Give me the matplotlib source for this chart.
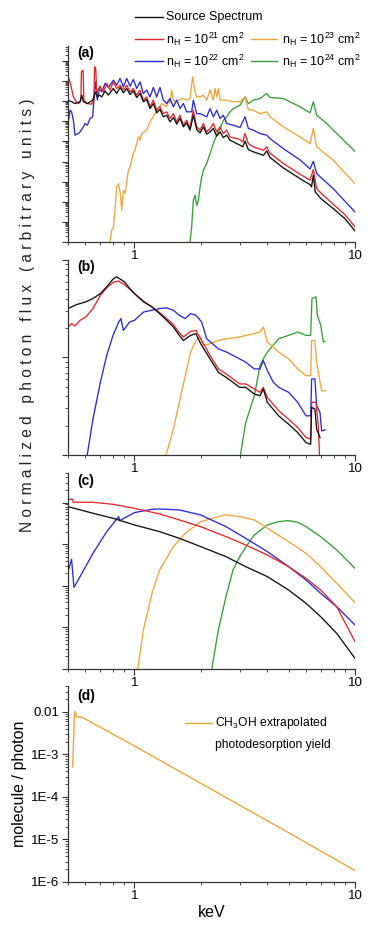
import numpy as np
import matplotlib
matplotlib.use('Agg')
import matplotlib.pyplot as plt
from matplotlib.lines import Line2D
from matplotlib.ticker import LogLocator, NullFormatter

plt.rcParams['font.family'] = ['Liberation Sans', 'DejaVu Sans']
plt.rcParams['mathtext.default'] = 'regular'

# ---------------- data (energy in keV, log10 of flux) ----------------
# panel (a)
a_src_E = [0.500, 0.519, 0.538, 0.567, 0.577, 0.587, 0.612, 0.647, 0.668, 0.679, 0.694, 0.711, 0.736, 0.762,
           0.803, 0.831, 0.861, 0.891, 0.923, 0.955, 0.989, 1.024, 1.060, 1.098, 1.137, 1.177, 1.219, 1.262,
           1.306, 1.352, 1.401, 1.450, 1.502, 1.555, 1.610, 1.667, 1.726, 1.787, 1.850, 1.916, 1.984, 2.054,
           2.127, 2.202, 2.280, 2.361, 2.444, 2.531, 2.620, 2.713, 2.810, 2.909, 3.012, 3.10, 3.173, 3.285,
           3.461, 3.85, 3.978, 4.119, 4.732, 5.635, 6.252, 6.35, 6.474, 6.60, 6.703, 7.0, 7.971, 9.0, 10.0]
a_src_L = [7.05, 6.97, 6.88, 6.97, 7.30, 6.97, 6.88, 7.05, 7.46, 7.21, 7.30, 7.21, 7.50, 7.30,
           7.63, 7.38, 7.68, 7.41, 7.63, 7.33, 7.51, 7.18, 7.38, 6.97, 7.08, 6.63, 6.88, 6.42,
           6.58, 6.22, 6.30, 5.97, 6.19, 5.86, 6.14, 5.72, 5.92, 5.56, 6.30, 5.59, 5.42, 5.72,
           5.36, 5.47, 5.64, 5.26, 5.47, 5.19, 5.31, 5.06, 4.98, 4.89, 4.81, 4.73, 5.02, 4.59,
           4.48, 4.31, 4.53, 4.20, 3.68, 3.15, 2.85, 2.74, 3.32, 2.49, 2.40, 2.16, 1.66, 1.16, 0.55]

a_21_E = [0.500, 0.505, 0.515, 0.529, 0.545, 0.560, 0.572, 0.575, 0.585, 0.590, 0.610, 0.640, 0.655, 0.660,
          0.668, 0.675, 0.698, 0.723, 0.749, 0.775, 0.803, 0.831, 0.860, 0.891, 0.923, 0.955, 0.989, 1.024,
          1.060, 1.098, 1.137, 1.177, 1.218, 1.262, 1.306, 1.352, 1.401, 1.450, 1.501, 1.554, 1.609, 1.666,
          1.725, 1.786, 1.849, 1.915, 1.983, 2.053, 2.126, 2.201, 2.279, 2.360, 2.443, 2.530, 2.620, 2.712,
          2.908, 3.011, 3.10, 3.172, 3.284, 3.460, 3.85, 3.978, 4.10, 4.732, 5.635, 6.252, 6.474, 6.703,
          7.0, 7.971, 9.0, 10.0]
a_21_L = [7.88, 8.13, 7.79, 7.21, 6.97, 6.88, 7.05, 8.46, 8.54, 7.05, 6.88, 6.85, 7.05, 8.71,
          8.62, 7.38, 7.75, 7.46, 7.88, 7.55, 7.96, 7.63, 7.79, 7.55, 7.79, 7.46, 7.63, 7.30,
          7.55, 7.05, 7.21, 6.72, 7.05, 6.55, 6.72, 6.38, 6.47, 6.14, 6.38, 5.97, 6.30, 5.80,
          6.05, 5.64, 6.55, 5.72, 5.56, 5.89, 5.47, 5.64, 5.89, 5.47, 5.72, 5.39, 5.56, 5.22,
          5.14, 5.09, 4.98, 5.39, 4.89, 4.73, 4.56, 4.73, 4.43, 3.90, 3.37, 3.07, 3.60, 2.65,
          2.44, 1.87, 1.36, 0.75]

a_22_E = [0.500, 0.511, 0.519, 0.529, 0.538, 0.557, 0.567, 0.587, 0.597, 0.612, 0.629, 0.647, 0.658, 0.668,
          0.679, 0.694, 0.711, 0.736, 0.762, 0.803, 0.831, 0.861, 0.891, 0.923, 0.955, 0.989, 1.024, 1.060,
          1.098, 1.137, 1.177, 1.219, 1.262, 1.306, 1.352, 1.401, 1.450, 1.502, 1.555, 1.610, 1.667, 1.726,
          1.818, 1.850, 1.916, 1.984, 2.127, 2.202, 2.280, 2.361, 2.444, 2.531, 2.620, 2.810, 3.012, 3.173,
          3.285, 3.461, 3.711, 3.978, 4.119, 4.732, 5.635, 6.252, 6.474, 6.703, 7.971, 10.0]
a_22_L = [5.89, 6.55, 6.47, 6.05, 5.31, 5.39, 5.47, 5.72, 5.89, 5.80, 6.14, 6.22, 7.38, 7.96,
          7.05, 7.63, 7.46, 7.88, 7.68, 8.04, 7.79, 8.13, 7.71, 8.13, 7.74, 8.08, 7.63, 7.96,
          7.38, 7.55, 7.21, 7.68, 7.21, 7.68, 7.05, 6.88, 7.13, 6.72, 7.05, 6.63, 6.88, 6.47,
          6.47, 7.05, 6.38, 6.38, 6.22, 6.63, 6.22, 6.55, 6.14, 6.30, 5.89, 5.80, 5.69, 6.22,
          5.64, 5.56, 5.39, 5.31, 5.14, 4.64, 4.08, 3.63, 4.01, 3.40, 2.65, 1.49]

a_23_E = [0.775, 0.789, 0.803, 0.817, 0.831, 0.846, 0.861, 0.876, 0.891, 0.907, 0.939, 0.955, 0.989, 1.006,
          1.042, 1.060, 1.079, 1.137, 1.177, 1.240, 1.329, 1.401, 1.425, 1.450, 1.476, 1.502, 1.555, 1.610,
          1.667, 1.726, 1.787, 1.837, 1.883, 1.916, 1.984, 2.054, 2.127, 2.202, 2.280, 2.320, 2.361, 2.402,
          2.444, 2.620, 2.810, 3.012, 3.173, 3.285, 3.461, 3.711, 3.978, 4.119, 4.732, 5.635, 6.252, 6.474,
          6.703, 7.971, 10.0]
a_23_L = [0.00, 0.58, 0.75, 1.58, 2.74, 2.90, 2.49, 1.58, 2.57, 2.40, 3.57, 3.73, 4.39, 4.56,
          5.22, 5.06, 5.39, 5.56, 5.97, 6.38, 6.88, 6.72, 7.05, 6.88, 7.55, 7.05, 6.97, 7.08,
          7.13, 7.05, 7.13, 8.21, 7.46, 7.21, 7.21, 7.30, 7.05, 7.55, 7.05, 7.63, 7.21, 7.63,
          7.05, 7.05, 6.97, 6.97, 7.21, 6.58, 6.55, 6.38, 6.47, 6.22, 5.72, 5.22, 4.89, 5.64,
          4.73, 4.06, 2.90]

a_24_E = [1.787, 1.818, 1.850, 1.883, 1.916, 1.950, 1.984, 2.019, 2.054, 2.127, 2.202, 2.280, 2.361, 2.444,
          2.531, 2.620, 2.713, 2.810, 3.012, 3.173, 3.285, 3.461, 3.711, 3.978, 4.119, 4.732, 5.635, 6.252,
          6.474, 6.703, 7.439, 7.971, 10.0]
a_24_L = [0.00, 0.75, 2.07, 2.32, 1.82, 2.07, 2.74, 3.23, 3.57, 3.90, 4.39, 4.89, 5.31, 5.64,
          6.05, 6.22, 6.47, 6.63, 6.80, 7.21, 6.88, 7.05, 7.13, 7.38, 7.18, 7.13, 6.72, 6.42,
          6.97, 6.30, 5.89, 5.56, 4.51]

# panel (b)
b_src_E = [0.5, 0.547, 0.602, 0.649, 0.701, 0.749, 0.800, 0.831, 0.900, 0.952, 1.0, 1.101, 1.201, 1.301,
           1.401, 1.502, 1.598, 1.667, 1.798, 1.901, 1.998, 2.202, 2.402, 2.601, 2.798, 3.0, 3.195, 3.497,
           3.711, 3.841, 4.005, 4.508, 5.0, 5.5, 5.997, 6.295, 6.36, 6.58, 6.70, 6.94]
b_src_L = [1.502, 1.543, 1.570, 1.605, 1.656, 1.725, 1.804, 1.828, 1.777, 1.708, 1.656, 1.570, 1.519, 1.450,
           1.381, 1.313, 1.227, 1.175, 1.227, 1.244, 1.141, 0.986, 0.849, 0.797, 0.746, 0.694, 0.694, 0.625,
           0.608, 0.677, 0.540, 0.402, 0.316, 0.230, 0.127, 0.110, 0.488, 0.471, 0.265, 0.179]

b_21_E = [0.5, 0.519, 0.538, 0.567, 0.602, 0.649, 0.701, 0.749, 0.800, 0.846, 0.900, 0.952, 1.0, 1.101,
          1.201, 1.301, 1.401, 1.502, 1.598, 1.667, 1.798, 1.901, 1.998, 2.202, 2.402, 2.601, 2.798, 3.0,
          3.195, 3.497, 3.711, 3.841, 4.005, 4.508, 5.0, 5.5, 5.997, 6.295, 6.36, 6.656, 6.82, 6.99]
b_21_L = [1.313, 1.347, 1.323, 1.381, 1.416, 1.502, 1.639, 1.715, 1.770, 1.784, 1.749, 1.701, 1.656, 1.577,
          1.519, 1.460, 1.399, 1.337, 1.254, 1.210, 1.268, 1.278, 1.192, 1.021, 0.883, 0.832, 0.780, 0.729,
          0.729, 0.677, 0.643, 0.694, 0.591, 0.454, 0.368, 0.282, 0.179, 0.162, 0.540, 0.540, 0.299, -0.3]

b_22_E = [0.606, 0.649, 0.701, 0.749, 0.800, 0.849, 0.869, 0.891, 0.952, 1.0, 1.101, 1.201, 1.301, 1.401,
          1.502, 1.598, 1.701, 1.798, 1.901, 2.018, 2.127, 2.402, 2.620, 3.0, 3.195, 3.497, 3.711, 3.841,
          4.005, 4.263, 4.508, 5.0, 5.5, 5.997, 6.295, 6.36, 6.58, 6.70, 6.94, 7.06, 7.31]
b_22_L = [-0.05, 0.368, 0.746, 1.021, 1.227, 1.364, 1.399, 1.278, 1.364, 1.381, 1.467, 1.485, 1.502, 1.509,
          1.485, 1.433, 1.399, 1.450, 1.433, 1.364, 1.192, 1.089, 1.055, 0.986, 0.952, 0.883, 0.883, 0.969,
          0.866, 0.746, 0.694, 0.643, 0.540, 0.402, 0.402, 0.780, 0.780, 0.505, 0.436, 0.247, 0.258]

b_23_E = [1.372, 1.502, 1.598, 1.701, 1.798, 1.901, 1.984, 2.054, 2.202, 2.402, 2.620, 3.012, 3.195, 3.497,
          3.711, 3.841, 4.005, 4.508, 5.0, 5.5, 5.997, 6.295, 6.36, 6.58, 6.70, 6.82, 7.06, 7.31]
b_23_L = [-0.05, 0.265, 0.540, 0.814, 1.055, 1.175, 1.210, 1.124, 1.141, 1.175, 1.192, 1.210, 1.227, 1.244,
          1.261, 1.313, 1.158, 1.055, 0.986, 0.883, 0.814, 0.814, 1.175, 1.175, 0.952, 0.849, 0.660, 0.660]

b_24_E = [3.0, 3.195, 3.497, 3.711, 3.841, 4.005, 4.508, 5.0, 5.5, 5.997, 6.295, 6.38, 6.656, 6.75,
          6.99, 7.19, 7.31]
b_24_L = [-0.05, 0.333, 0.608, 0.918, 0.986, 1.055, 1.192, 1.227, 1.261, 1.227, 1.227, 1.605, 1.622, 1.433,
          1.330, 1.158, 1.165]

# panel (c)
c_src_E = [0.5, 0.649, 0.800, 1.0, 1.301, 1.598, 1.998, 2.601, 3.195, 4.005, 5.0, 5.997, 6.986, 8.26, 10.0]
c_src_L = [3.902, 3.742, 3.622, 3.462, 3.301, 3.141, 2.941, 2.700, 2.460, 2.220, 1.899, 1.579, 1.258, 0.857, 0.256]

c_21_E = [0.5, 0.525, 0.528, 0.649, 0.800, 1.0, 1.301, 1.598, 1.998, 2.601, 3.195, 4.005, 5.0, 5.997, 6.986,
          8.26, 10.0]
c_21_L = [4.079, 4.079, 4.006, 4.006, 3.958, 3.862, 3.726, 3.582, 3.421, 3.181, 2.981, 2.740, 2.460, 2.179,
          1.899, 1.498, 0.657]

c_22_E = [0.5, 0.519, 0.532, 0.567, 0.649, 0.749, 0.849, 0.858, 1.0, 1.201, 1.301, 1.598, 1.998, 2.601, 3.195,
          4.005, 5.0, 5.997, 6.986, 8.26, 10.0]
c_22_L = [2.340, 2.636, 1.963, 2.220, 2.780, 3.301, 3.662, 3.566, 3.758, 3.838, 3.846, 3.822, 3.702, 3.421,
          3.141, 2.821, 2.460, 2.139, 1.819, 1.498, 1.058]

c_23_E = [1.035, 1.098, 1.201, 1.301, 1.502, 1.701, 1.998, 2.402, 2.601, 3.0, 3.497, 4.005, 5.0, 5.997, 6.986,
          8.26, 10.0]
c_23_L = [-0.02, 0.938, 1.819, 2.380, 2.941, 3.261, 3.542, 3.662, 3.702, 3.662, 3.582, 3.381, 3.061, 2.780,
          2.460, 2.059, 1.595]

c_24_E = [2.239, 2.402, 2.601, 2.798, 3.0, 3.195, 3.497, 4.005, 4.508, 5.0, 5.5, 5.997, 6.986, 8.26, 10.0]
c_24_L = [-0.02, 0.938, 1.739, 2.380, 2.700, 2.925, 3.221, 3.462, 3.542, 3.566, 3.526, 3.421, 3.181, 2.861, 2.420]

# panel (d): CH3OH photodesorption yield (molecule / photon)
d_E = [0.525, 0.535, 0.540, 0.546, 0.577, 1.0, 2.0, 5.0, 10.0]
d_L = [-3.29, -2.05, -1.99, -2.12, -2.12, -2.80, -3.68, -4.84, -5.73]

series_labels = ['Source Spectrum', r'n$_{H}$ = 10$^{21}$ cm$^{2}$', r'n$_{H}$ = 10$^{22}$ cm$^{2}$',
                 r'n$_{H}$ = 10$^{23}$ cm$^{2}$', r'n$_{H}$ = 10$^{24}$ cm$^{2}$']
colors = ['#111111', '#e8262a', '#2a2ad8', '#f4a43a', '#35a035']
panel_tags = ['(a)', '(b)', '(c)', '(d)']
d_ticks = [1e-6, 1e-5, 1e-4, 1e-3, 1e-2]
d_ticklabels = ['1E-6', '1E-5', '1E-4', '1E-3', '0.01']

# ---------------- figure ----------------
W, H = 382, 930
fig = plt.figure(figsize=(W / 100, H / 100), dpi=100)


def fx(px):
    return px / W


def fy(py):
    return 1 - py / H


left, right = 68, 355
panels_px = [(46, 242), (260, 455), (473, 669), (686, 882)]
ylims = [(1, 10 ** 9.74), (1, 100), (1, 10 ** 4.71), (1e-6, 10 ** -1.39)]

axes = []
for (top, bot), yl in zip(panels_px, ylims):
    ax = fig.add_axes([fx(left), fy(bot), fx(right) - fx(left), (bot - top) / H])
    ax.set_xscale('log')
    ax.set_yscale('log')
    ax.set_xlim(0.5, 10)
    ax.set_ylim(*yl)
    for s in ['top', 'right']:
        ax.spines[s].set_visible(False)
    for s in ['left', 'bottom']:
        ax.spines[s].set_linewidth(0.9)
        ax.spines[s].set_color('#333333')
    ax.set_xticks([1, 10])
    ax.set_xticklabels(['1', '10'])
    ax.xaxis.set_minor_locator(LogLocator(base=10, subs=np.arange(2, 10)))
    ax.xaxis.set_minor_formatter(NullFormatter())
    ax.yaxis.set_major_locator(LogLocator(base=10, numticks=20))
    ax.yaxis.set_minor_locator(LogLocator(base=10, subs=np.arange(2, 10), numticks=20))
    ax.yaxis.set_minor_formatter(NullFormatter())
    ax.tick_params(which='major', direction='out', length=4, width=0.8, labelsize=9.5, pad=2, color='#333333')
    ax.tick_params(which='minor', direction='out', length=2, width=0.6, color='#333333')
    axes.append(ax)

for ax in axes[:3]:
    ax.yaxis.set_major_formatter(NullFormatter())

lw = 0.95
data_a = [(a_src_E, a_src_L), (a_21_E, a_21_L), (a_22_E, a_22_L), (a_23_E, a_23_L), (a_24_E, a_24_L)]
data_b = [(b_src_E, b_src_L), (b_21_E, b_21_L), (b_22_E, b_22_L), (b_23_E, b_23_L), (b_24_E, b_24_L)]
data_c = [(c_src_E, c_src_L), (c_21_E, c_21_L), (c_22_E, c_22_L), (c_23_E, c_23_L), (c_24_E, c_24_L)]

for ax, data in zip(axes[:3], [data_a, data_b, data_c]):
    order = [4, 3, 2, 1, 0]
    for i in order:
        E, L = data[i]
        ax.plot(E, np.power(10.0, L), color=colors[i], lw=lw)

axd = axes[3]
axd.plot(d_E, np.power(10.0, d_L), color=colors[3], lw=1.0)
axd.set_yticks(d_ticks)
axd.set_yticklabels(d_ticklabels)
axd.set_ylim(*ylims[3])
axd.set_ylabel('molecule / photon', fontsize=11.5, labelpad=3)
axd.set_xlabel('keV', fontsize=11.5, labelpad=2)

# panel tags
tag_y = [53, 267, 481, 696]
for t, py in zip(panel_tags, tag_y):
    fig.text(fx(77), fy(py), t, fontsize=10, fontweight='bold', ha='left', va='center')

# big y label
words = ['Normalized', 'photon', 'flux', '(arbitrary', 'units)']
spaced = '   '.join(' '.join(list(w)) for w in words)
fig.text(fx(28), fy(315), spaced, rotation=90, ha='center', va='center', fontsize=11.2, color='#222222')

# top legend
leg_rows = [(17, [(135, 163, 166, 0)]),
            (39, [(135, 163, 166, 1), (251, 277, 282, 3)]),
            (61, [(135, 163, 166, 2), (251, 277, 282, 4)])]
for py, items in leg_rows:
    for x0, x1, xt, idx in items:
        fig.add_artist(Line2D([fx(x0), fx(x1)], [fy(py), fy(py)], color=colors[idx], lw=1.0,
                              transform=fig.transFigure))
        fig.text(fx(xt), fy(py), series_labels[idx], fontsize=9, ha='left', va='center')

# panel (d) legend
fig.add_artist(Line2D([fx(185), fx(212)], [fy(723), fy(723)], color=colors[3], lw=1.0,
                      transform=fig.transFigure))
fig.text(fx(215), fy(723), r'CH$_{3}$OH extrapolated', fontsize=8.7, ha='left', va='center')
fig.text(fx(215), fy(745), 'photodesorption yield', fontsize=8.7, ha='left', va='center')

fig.savefig('out.png', dpi=100, facecolor='white')
